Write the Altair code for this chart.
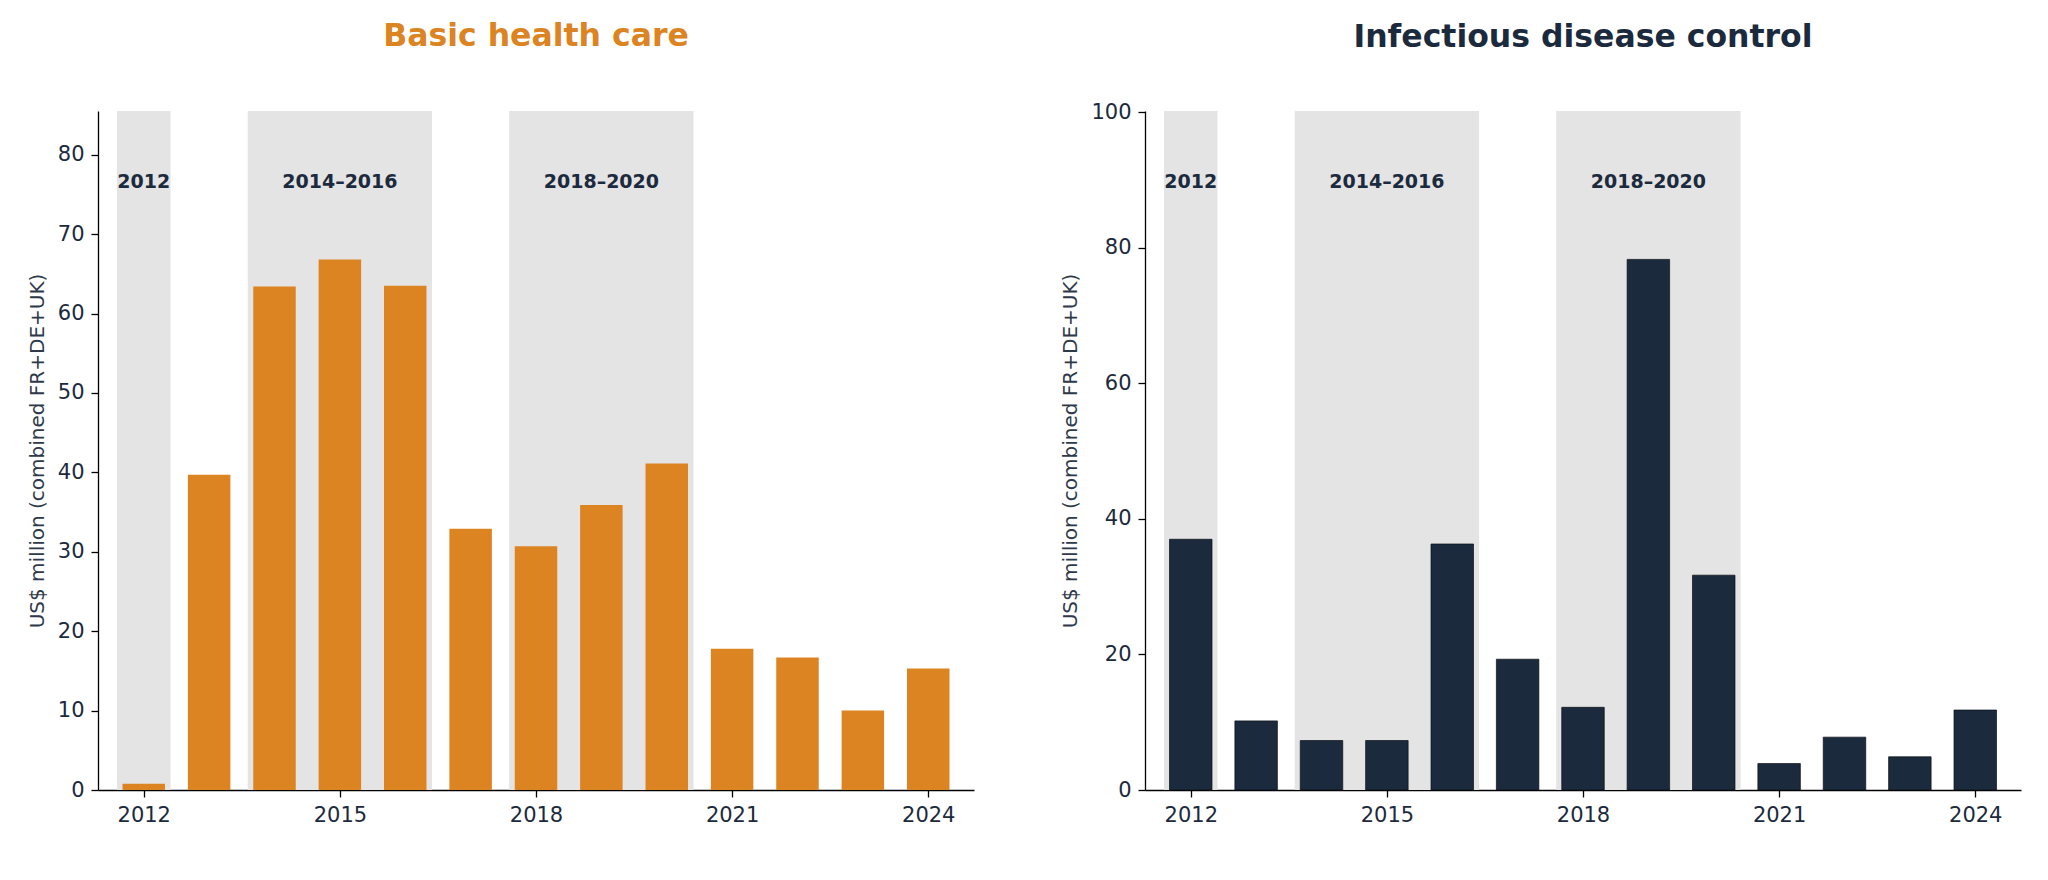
import altair as alt
import pandas as pd

years = list(range(2012, 2025))
basic_health = [0.8, 39.7, 63.4, 66.8, 63.5, 32.9, 30.7, 35.9, 41.1, 17.8, 16.7, 10.0, 15.3]
infectious = [37.0, 10.2, 7.3, 7.3, 36.3, 19.3, 12.2, 78.3, 31.7, 3.9, 7.8, 4.9, 11.8]

band_labels = ["2012", "2014–2016", "2018–2020"]
band_start = [2012, 2014, 2018]
band_end = [2012, 2016, 2020]

x_ticks = [2012, 2015, 2018, 2021, 2024]
FONT = "DejaVu Sans"
NAVY = "#1C2A3D"
ORANGE = "#DC8322"
BAND = "#E4E4E4"


def panel(values, color, title, title_color, ymax, yticks, stroke, title_offset):
    df = pd.DataFrame({"year": years, "value": values})
    bands = pd.DataFrame({"label": band_labels, "start": band_start, "end": band_end})
    xscale = alt.Scale(domain=[2011.3, 2024.7], nice=False, zero=False)
    yscale = alt.Scale(domain=[0, ymax], nice=False, zero=True)
    xaxis = alt.Axis(values=x_ticks, format="d", title=None, grid=False)
    yaxis = alt.Axis(values=yticks, title="US$ million (combined FR+DE+UK)", grid=False)

    band = (
        alt.Chart(bands)
        .transform_calculate(
            x0="datum.start - 0.41",
            x1="datum.end + 0.41",
            y0="0",
            y1=str(ymax),
        )
        .mark_rect(color=BAND)
        .encode(
            x=alt.X("x0:Q", scale=xscale, axis=xaxis),
            x2="x1:Q",
            y=alt.Y("y0:Q", scale=yscale, axis=yaxis),
            y2="y1:Q",
        )
    )
    bar_kwargs = dict(color=color)
    if stroke:
        bar_kwargs.update(stroke="#0A0F16", strokeWidth=0.7)
    bars = (
        alt.Chart(df)
        .transform_calculate(b0="datum.year - 0.325", b1="datum.year + 0.325")
        .mark_rect(**bar_kwargs)
        .encode(
            x=alt.X("b0:Q", scale=xscale, axis=xaxis),
            x2="b1:Q",
            y=alt.Y("value:Q", scale=yscale, axis=yaxis),
            y2=alt.datum(0),
        )
    )
    labels = (
        alt.Chart(bands)
        .transform_calculate(xm="(datum.start + datum.end) / 2", ym=str(ymax * 0.895))
        .mark_text(font=FONT, fontSize=19, fontWeight="bold", color=NAVY, baseline="middle", align="center")
        .encode(
            x=alt.X("xm:Q", scale=xscale, axis=xaxis),
            y=alt.Y("ym:Q", scale=yscale, axis=yaxis),
            text="label:N",
        )
    )
    return alt.layer(band, bars, labels).properties(
        width=876,
        height=679,
        title=alt.TitleParams(
            text=title,
            color=title_color,
            font=FONT,
            fontSize=31.5,
            fontWeight="bold",
            anchor="middle",
            baseline="alphabetic",
            offset=title_offset,
        ),
    )


left = panel(basic_health, ORANGE, "Basic health care", ORANGE, 85.5,
             [0, 10, 20, 30, 40, 50, 60, 70, 80], False, 34)
right = panel(infectious, NAVY, "Infectious disease control", NAVY, 100.2,
              [0, 20, 40, 60, 80, 100], True, 23)

chart = (
    alt.hconcat(left, right, spacing=86)
    .properties(padding={"left": 19, "top": 12, "right": 5, "bottom": 5})
    .configure_view(stroke=None)
    .configure_axis(
        domainColor="#000000",
        domainWidth=1.3,
        tickColor="#000000",
        tickWidth=1.3,
        tickSize=7,
        labelFont=FONT,
        labelFontSize=21,
        labelColor=NAVY,
        labelPadding=7,
        titleFont=FONT,
        titleFontSize=20,
        titleFontWeight="normal",
        titleColor="#2E3A4A",
        titlePadding=10,
    )
)

chart.save("out.html", embed_options={"renderer": "svg", "actions": False})
